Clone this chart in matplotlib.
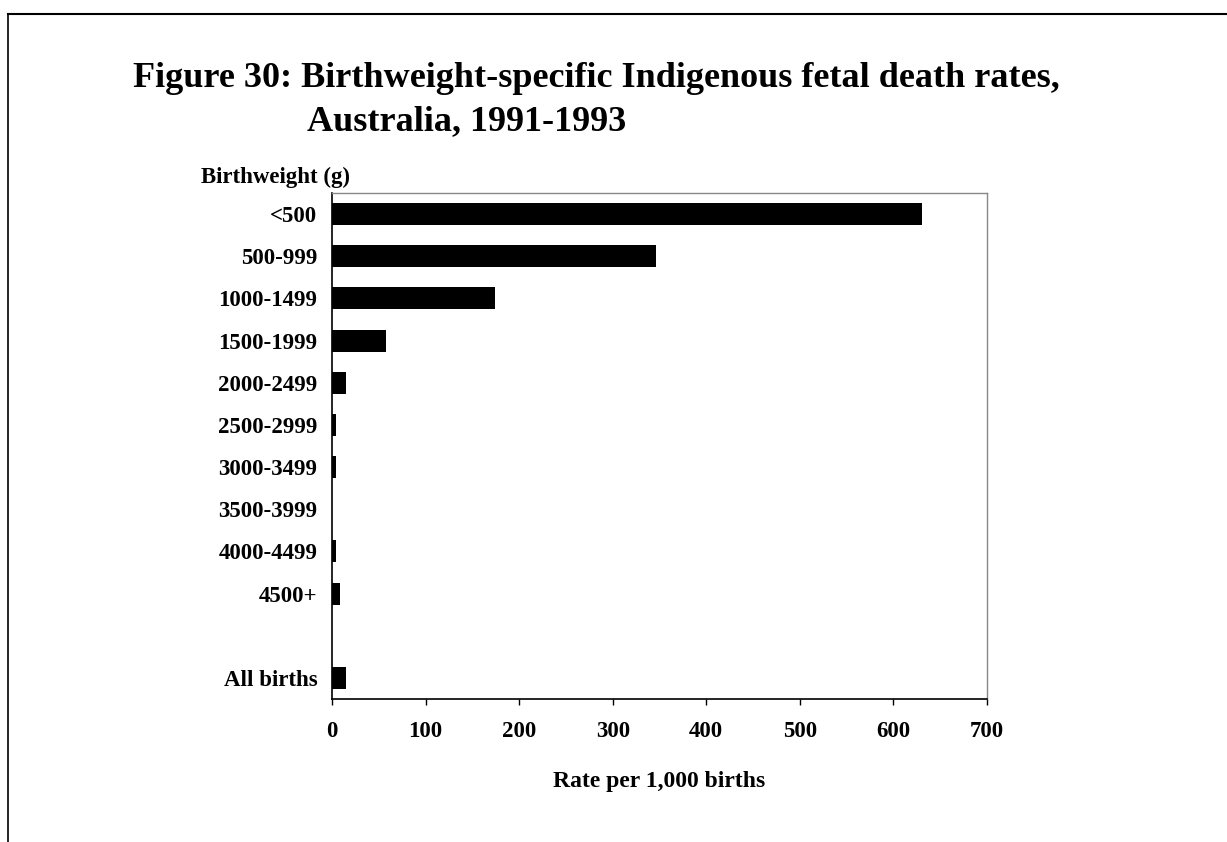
import matplotlib
matplotlib.use("Agg")
import matplotlib.pyplot as plt
from matplotlib.lines import Line2D

# 출생체중 구간별 사산율 (1,000명당)
categories = ["<500", "500-999", "1000-1499", "1500-1999", "2000-2499",
              "2500-2999", "3000-3499", "3500-3999", "4000-4499", "4500+",
              "All births"]
rates = [630, 346, 174, 58, 15, 4, 4, 0, 4, 8.5, 15]
positions = [0, 1, 2, 3, 4, 5, 6, 7, 8, 9, 11]
xticks = [0, 100, 200, 300, 400, 500, 600, 700]

plt.rcParams['font.family'] = ['Liberation Serif', 'DejaVu Serif']
plt.rcParams['font.weight'] = 'bold'

W, H = 1227, 842
fig = plt.figure(figsize=(W / 100, H / 100), dpi=100)
ax = fig.add_axes([332/W, 1 - 699/H, (987-332)/W, (699-193)/H])

ax.barh(positions, rates, height=0.52, color='black')
ax.set_ylim(11.5, -0.5)
ax.set_xlim(0, 700)
ax.set_yticks(positions)
ax.set_yticklabels(categories, fontsize=16.5, fontweight='bold')
ax.set_xticks(xticks)
ax.set_xticklabels([str(v) for v in xticks], fontsize=16.5, fontweight='bold')
ax.tick_params(axis='y', length=0, pad=10.5)
ax.tick_params(axis='x', length=4, width=1, pad=12, direction='out')

for s in ['top', 'right']:
    ax.spines[s].set_color('#888888')
    ax.spines[s].set_linewidth(1)
for s in ['left', 'bottom']:
    ax.spines[s].set_color('black')
    ax.spines[s].set_linewidth(1.2)

ax.set_xlabel("Rate per 1,000 births", fontsize=17, fontweight='bold', labelpad=21)

fig.text(133/W, 1 - 87/H, "Figure 30: Birthweight-specific Indigenous fetal death rates,",
         fontsize=26, fontweight='bold', va='baseline', ha='left')
fig.text(307/W, 1 - 130/H, "Australia, 1991-1993",
         fontsize=26, fontweight='bold', va='baseline', ha='left')
fig.text(201/W, 1 - 183/H, "Birthweight (g)",
         fontsize=16.5, fontweight='bold', va='baseline', ha='left')

# 페이지 테두리
fig.add_artist(Line2D([8/W, 1], [1 - 14/H, 1 - 14/H], color='black', lw=1.5))
fig.add_artist(Line2D([8/W, 8/W], [0, 1 - 14/H], color='black', lw=1.2))

fig.savefig("out.png", dpi=100)
